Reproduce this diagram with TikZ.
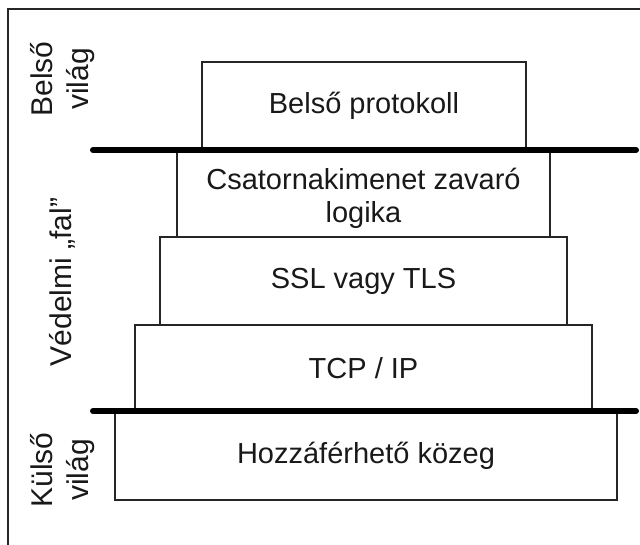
\documentclass[tikz,border=0pt]{standalone}
\usepackage{fontspec}
\setmainfont{Liberation Sans}
\begin{document}
\begin{tikzpicture}[x=1pt,y=-1pt,
  layer/.style={draw=black!85, line width=2pt, rectangle, inner sep=0pt, font=\fontsize{29}{33}\selectfont, align=center, text=black!90},
  side/.style={rotate=90, font=\fontsize{30}{36}\selectfont, align=center, inner sep=0pt, text=black!90},
  sepline/.style={line width=6pt, line cap=round},
  frameline/.style={line width=1.5pt, draw=black!85}]
\useasboundingbox (0,0) rectangle (640,544);
% frame
\coordinate (ftr) at (641,9);
\coordinate (ftl) at (8,9);
\coordinate (fbl) at (8,545);
\draw[frameline] (ftr) -- (ftl) -- (fbl);
% boxes
\node[layer, minimum width=324pt, minimum height=88pt] (inner) at (364,106) {Belső protokoll};
\node[layer, minimum width=373pt, minimum height=87pt] (chan) at (363.5,193.5) {\rule{0pt}{31.5pt}Csatornakimenet zavaró\\logika};
\node[layer, minimum width=407pt, minimum height=88pt] (ssl) at (363.5,281) {SSL vagy TLS};
\node[layer, minimum width=457pt, minimum height=86pt] (tcp) at (363.5,368) {TCP / IP};
\node[layer, minimum width=502pt, minimum height=89pt] (ext) at (366,455.5) {Hozzáférhető közeg};
% separators
\coordinate (s1a) at (93,150);
\coordinate (s1b) at (636,150);
\coordinate (s2a) at (93,411);
\coordinate (s2b) at (636,411);
\draw[sepline] (s1a) -- (s1b);
\draw[sepline] (s2a) -- (s2b);
% side labels
\node[side] (lin) at (63,79) {Belső\\világ};
\node[side] (lmid) at (62,282) {Védelmi „fal”};
\node[side] (lout) at (63,470) {Külső\\világ};
\end{tikzpicture}
\end{document}
